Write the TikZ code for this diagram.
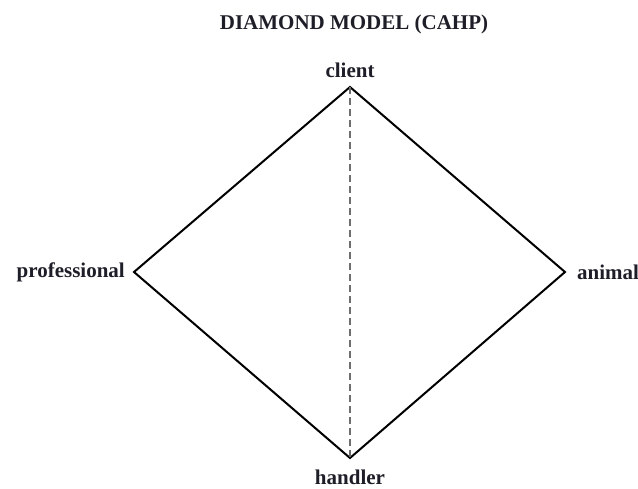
\documentclass[tikz,border=0pt]{standalone}
\usepackage{fontspec}
\setmainfont{Liberation Serif}
\usetikzlibrary{positioning}
\definecolor{mink}{RGB}{30,30,40}
\definecolor{mgray}{RGB}{110,110,110}

\begin{document}
\begin{tikzpicture}[x=1pt,y=-1pt,
    lbl/.style={font=\bfseries\fontsize{21}{25}\selectfont, text=mink, inner sep=0pt},
    edge/.style={line width=2pt, line join=miter}]
  \useasboundingbox (0,0) rectangle (638,488);
  % corners of the diamond
  \coordinate (client) at (350,87);
  \coordinate (prof) at (134,272);
  \coordinate (animal) at (565,272);
  \coordinate (handler) at (350,458);
  \draw[edge] (client) -- (animal) -- (handler) -- (prof) -- cycle;
  \draw[mgray, line width=2.6pt, dash pattern=on 7pt off 4pt] (client) -- (handler);
  % labels
  \node[lbl] (title) at (354,24) {DIAMOND MODEL (CAHP)};
  \node[lbl, above=9pt of client] (lclient) {client};
  \node[lbl, left=9pt of prof] (lprof) {professional};
  \node[lbl, right=12pt of animal] (lanimal) {animal};
  \node[lbl, below=12pt of handler] (lhandler) {handler};
\end{tikzpicture}
\end{document}
